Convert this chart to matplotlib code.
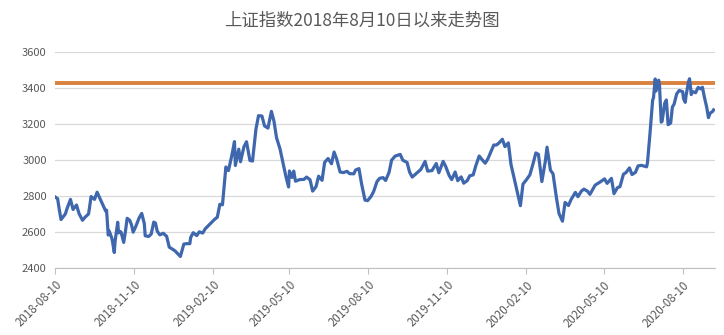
import matplotlib
matplotlib.use("Agg")
import matplotlib.pyplot as plt
import matplotlib.dates as mdates
import pandas as pd

dates = [
    "2018-08-10", "2018-08-13", "2018-08-15", "2018-08-17", "2018-08-22", "2018-08-24", "2018-08-28",
    "2018-08-31", "2018-09-04", "2018-09-07", "2018-09-11", "2018-09-14", "2018-09-18", "2018-09-19",
    "2018-09-21", "2018-09-25", "2018-09-28", "2018-10-08", "2018-10-09", "2018-10-11", "2018-10-12",
    "2018-10-15", "2018-10-16", "2018-10-18", "2018-10-19", "2018-10-22", "2018-10-23", "2018-10-25",
    "2018-10-26", "2018-10-29", "2018-10-31", "2018-11-02", "2018-11-05", "2018-11-07", "2018-11-09",
    "2018-11-12", "2018-11-16", "2018-11-19", "2018-11-22", "2018-11-23", "2018-11-27", "2018-11-30",
    "2018-12-03", "2018-12-05", "2018-12-07", "2018-12-10", "2018-12-14", "2018-12-18", "2018-12-21",
    "2018-12-25", "2018-12-28", "2019-01-03", "2019-01-07", "2019-01-10", "2019-01-14", "2019-01-15",
    "2019-01-18", "2019-01-22", "2019-01-25", "2019-01-29", "2019-02-01", "2019-02-12", "2019-02-15",
    "2019-02-18", "2019-02-21", "2019-02-22", "2019-02-25", "2019-02-28", "2019-03-04", "2019-03-07",
    "2019-03-08", "2019-03-12", "2019-03-14", "2019-03-18", "2019-03-21", "2019-03-25", "2019-03-28",
    "2019-04-01", "2019-04-04", "2019-04-08", "2019-04-11", "2019-04-15", "2019-04-19", "2019-04-22",
    "2019-04-25", "2019-04-29", "2019-05-06", "2019-05-09", "2019-05-10", "2019-05-13", "2019-05-15",
    "2019-05-17", "2019-05-22", "2019-05-27", "2019-05-30", "2019-06-03", "2019-06-06", "2019-06-10",
    "2019-06-13", "2019-06-17", "2019-06-20", "2019-06-24", "2019-06-28", "2019-07-01", "2019-07-04",
    "2019-07-08", "2019-07-12", "2019-07-16", "2019-07-19", "2019-07-24", "2019-07-26", "2019-07-30",
    "2019-08-02", "2019-08-06", "2019-08-09", "2019-08-13", "2019-08-16", "2019-08-20", "2019-08-23",
    "2019-08-27", "2019-08-30", "2019-09-03", "2019-09-06", "2019-09-10", "2019-09-16", "2019-09-19",
    "2019-09-24", "2019-09-27", "2019-09-30", "2019-10-10", "2019-10-15", "2019-10-18", "2019-10-23",
    "2019-10-28", "2019-10-31", "2019-11-05", "2019-11-08", "2019-11-12", "2019-11-15", "2019-11-19",
    "2019-11-22", "2019-11-26", "2019-11-29", "2019-12-03", "2019-12-06", "2019-12-10", "2019-12-13",
    "2019-12-17", "2019-12-20", "2019-12-24", "2019-12-27", "2019-12-31", "2020-01-03", "2020-01-06",
    "2020-01-09", "2020-01-13", "2020-01-16", "2020-01-20", "2020-01-23", "2020-02-03", "2020-02-06",
    "2020-02-10", "2020-02-14", "2020-02-18", "2020-02-21", "2020-02-24", "2020-02-28", "2020-03-03",
    "2020-03-05", "2020-03-09", "2020-03-12", "2020-03-16", "2020-03-19", "2020-03-23", "2020-03-26",
    "2020-03-30", "2020-04-02", "2020-04-07", "2020-04-10", "2020-04-14", "2020-04-17", "2020-04-21",
    "2020-04-24", "2020-04-30", "2020-05-06", "2020-05-11", "2020-05-14", "2020-05-19", "2020-05-22",
    "2020-05-26", "2020-05-29", "2020-06-02", "2020-06-05", "2020-06-09", "2020-06-12", "2020-06-16",
    "2020-06-19", "2020-06-23", "2020-06-29", "2020-06-30", "2020-07-03", "2020-07-06", "2020-07-07",
    "2020-07-09", "2020-07-10", "2020-07-13", "2020-07-14", "2020-07-16", "2020-07-17", "2020-07-20",
    "2020-07-22", "2020-07-24", "2020-07-27", "2020-07-29", "2020-07-31", "2020-08-03", "2020-08-06",
    "2020-08-10", "2020-08-11", "2020-08-13", "2020-08-14", "2020-08-17", "2020-08-18", "2020-08-19",
    "2020-08-20", "2020-08-21", "2020-08-25", "2020-08-28", "2020-08-31", "2020-09-02", "2020-09-04",
    "2020-09-07", "2020-09-09", "2020-09-11", "2020-09-14", "2020-09-15",
]
closes = [
    2795, 2785, 2723, 2669, 2700, 2730, 2781,
    2725, 2750, 2702, 2665, 2682, 2700, 2730,
    2797, 2781, 2821, 2716, 2721, 2583, 2606,
    2568, 2546, 2486, 2550, 2654, 2595, 2603,
    2598, 2542, 2603, 2676, 2665, 2641, 2599,
    2630, 2679, 2703, 2646, 2579, 2575, 2588,
    2655, 2649, 2605, 2584, 2593, 2576, 2516,
    2504, 2494, 2464, 2533, 2535, 2535, 2570,
    2596, 2580, 2601, 2594, 2618, 2671, 2682,
    2754, 2751, 2804, 2961, 2941, 3027, 3102,
    2969, 3060, 2990, 3073, 3101, 2997, 2994,
    3171, 3246, 3244, 3189, 3177, 3270, 3215,
    3123, 3062, 2906, 2850, 2939, 2903, 2938,
    2882, 2891, 2892, 2905, 2890, 2827, 2852,
    2910, 2887, 2987, 3008, 2979, 3044, 3005,
    2933, 2930, 2937, 2924, 2923, 2944, 2952,
    2868, 2777, 2774, 2797, 2824, 2880, 2898,
    2902, 2886, 2931, 2999, 3021, 3031, 2999,
    2986, 2932, 2905, 2947, 2992, 2938, 2941,
    2980, 2929, 2992, 2964, 2914, 2891, 2933,
    2885, 2906, 2871, 2885, 2912, 2917, 2967,
    3022, 3004, 2982, 3005, 3050, 3083, 3083,
    3094, 3115, 3074, 3095, 2976, 2746, 2866,
    2890, 2917, 2984, 3039, 3031, 2880, 2992,
    3071, 2943, 2923, 2789, 2702, 2660, 2764,
    2747, 2780, 2820, 2796, 2827, 2838, 2827,
    2809, 2860, 2878, 2895, 2870, 2898, 2813,
    2846, 2852, 2921, 2930, 2956, 2919, 2931,
    2967, 2970, 2962, 2985, 3152, 3332, 3345,
    3450, 3383, 3443, 3415, 3210, 3214, 3314,
    3333, 3196, 3205, 3294, 3310, 3367, 3386,
    3379, 3340, 3320, 3360, 3438, 3451, 3408,
    3363, 3381, 3373, 3403, 3395, 3404, 3355,
    3292, 3235, 3260, 3270, 3278,
]
reference_level = 3428
tick_dates = ["2018-08-10", "2018-11-10", "2019-02-10", "2019-05-10", "2019-08-10",
              "2019-11-10", "2020-02-10", "2020-05-10", "2020-08-10"]
title = "上证指数2018年8月10日以来走势图"

plt.rcParams["font.family"] = ["Noto Sans CJK SC", "DejaVu Sans"]

x = pd.to_datetime(dates)
fig = plt.figure(figsize=(7.24, 3.35), dpi=100)
ax = fig.add_axes([0.076, 0.2, 0.912, 0.645])

ax.plot(x, closes, color="#3F67AE", linewidth=2.3, solid_joinstyle="round", zorder=3)
ax.axhline(reference_level, color="#D9823F", linewidth=2.8, zorder=2)

ax.set_ylim(2400, 3600)
ax.set_yticks(range(2400, 3601, 200))
ax.set_xlim(pd.Timestamp("2018-08-10"), pd.Timestamp("2020-09-17"))
ax.set_xticks(pd.to_datetime(tick_dates))
ax.xaxis.set_major_formatter(mdates.DateFormatter("%Y-%m-%d"))

ax.grid(axis="y", color="#D9D9D9", linewidth=0.9)
ax.set_axisbelow(True)
for side in ("top", "right", "left"):
    ax.spines[side].set_visible(False)
ax.spines["bottom"].set_color("#BFBFBF")
ax.tick_params(axis="y", length=0, labelsize=8, labelcolor="#595959", pad=6)
ax.tick_params(axis="x", length=4, color="#BFBFBF", labelsize=8.3, labelcolor="#595959")
for lbl in ax.get_xticklabels():
    lbl.set_rotation(45)
    lbl.set_ha("right")
    lbl.set_rotation_mode("anchor")

fig.text(0.5, 0.938, title, ha="center", va="center", fontsize=12.5, color="#595959")

fig.savefig("out.png", dpi=100)
